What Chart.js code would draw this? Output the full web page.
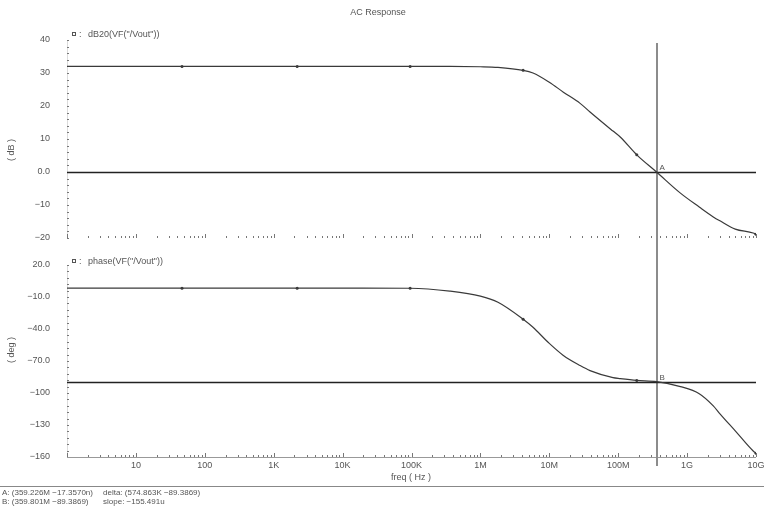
<!DOCTYPE html>
<html>
<head>
<meta charset="utf-8">
<title>AC Response</title>
<script src="https://cdn.jsdelivr.net/npm/chart.js@4.4.1/dist/chart.umd.min.js"></script>
<style>
  html, body { margin: 0; padding: 0; background: #fff; }
  #wrap { position: relative; width: 764px; height: 506px; overflow: hidden; }
  canvas { position: absolute; left: 0; }
  #gain { top: 0; }
  #phase { top: 250px; }
</style>
</head>
<body>
<div id="wrap">
  <canvas id="gain" width="764" height="250"></canvas>
  <canvas id="phase" width="764" height="256"></canvas>
</div>
<script>
// sweep points (Hz)
const freq = [1, 10, 46.7, 100, 1e3, 2.19e3, 1e4, 9.55e4, 3.6e5, 1e6, 1.8e6, 4.17e6, 5.8e6, 1e7,
  1.6e7, 2.8e7, 3.9e7, 8.4e7, 1.07e8, 1.86e8, 3.6e8, 8e8, 1.5e9, 2.4e9, 3e9, 5e9, 9.1e9, 1e10];
// dB20(VF("/Vout"))
const gainDb = [32, 32, 32, 32, 32, 32, 32, 32, 32, 31.9, 31.7, 30.8, 30.0, 27.2,
  24.2, 20.8, 18.2, 12.4, 10.6, 5.2, 0, -6.4, -10.6, -13.6, -14.8, -17.3, -18.5, -18.9];
// phase(VF("/Vout"))
const phaseDeg = [-1.7, -1.7, -1.7, -1.7, -1.7, -1.7, -1.7, -1.8, -4.5, -9.2, -15, -30.9, -38.4, -53.5,
  -64.8, -74.3, -79, -85.6, -86.5, -88.2, -89.4, -94, -100.6, -112, -119.5, -135.5, -154.4, -156.5];
// trace symbols
const markerFreqs = [46.7, 2.19e3, 9.55e4, 4.17e6, 1.86e8, 1e10];

const freqTicks = [10, 100, 1e3, 1e4, 1e5, 1e6, 1e7, 1e8, 1e9, 1e10];
const freqTickLabels = ['10', '100', '1K', '10K', '100K', '1M', '10M', '100M', '1G', '10G'];

// cursors A / B  [freq, value]
const cursorA = [359.226e6, -17.3570e-9];
const cursorB = [359.801e6, -89.3869];
const cursorText = [
  ['A: (359.226M \u221217.3570n)', 'delta: (574.863K \u221289.3869)'],
  ['B: (359.801M \u221289.3869)', 'slope: \u2212155.491u']
];

const FONT = '"Liberation Sans", "DejaVu Sans", sans-serif';
const TEXT = '#555';
const TRACE = '#3a3a3a';
const CURSOR = '#8c8c8c';

function minus(s) { return String(s).replace('-', '\u2212'); }

function pointSize(ctx) {
  return markerFreqs.includes(freq[ctx.dataIndex]) ? 1.5 : 0;
}

function makeData(values) {
  return {
    labels: freq,
    datasets: [{
      data: freq.map((f, i) => ({ x: f, y: values[i] })),
      borderColor: TRACE,
      borderWidth: 1.2,
      backgroundColor: TRACE,
      pointRadius: pointSize,
      pointBorderWidth: 0,
      cubicInterpolationMode: 'monotone',
      fill: false
    }]
  };
}

function noPad(s) {
  s.paddingLeft = 0; s.paddingRight = 0; s.paddingTop = 0; s.paddingBottom = 0;
}

function xScale(showLabels) {
  return {
    type: 'logarithmic',
    min: 1,
    max: 1e10,
    display: showLabels,
    afterBuildTicks: (s) => { s.ticks = freqTicks.map(v => ({ value: v })); },
    afterFit: (s) => { noPad(s); s.height = showLabels ? 49 : 0; },
    grid: { display: false, drawTicks: false },
    border: { display: false },
    ticks: {
      autoSkip: false,
      maxRotation: 0,
      padding: 3,
      color: TEXT,
      font: { family: FONT, size: 9 },
      callback: (v, i) => freqTickLabels[i]
    }
  };
}

function yScale(min, max, step, fmt) {
  return {
    type: 'linear',
    min: min,
    max: max,
    afterFit: (s) => { noPad(s); s.width = 67; },
    grid: { display: false, drawTicks: false },
    border: { display: false },
    ticks: {
      stepSize: step,
      padding: 17,
      color: TEXT,
      font: { family: FONT, size: 9 },
      callback: fmt
    }
  };
}

// axis ticks, cursor lines and the waveform-window texts
function framePlugin(cfg) {
  return {
    id: 'frame',
    beforeDatasetsDraw(chart) {
      const c = chart.ctx, a = chart.chartArea;
      const xs = chart.scales.x, ys = chart.scales.y;
      c.save();
      c.lineWidth = 1;
      c.strokeStyle = '#dcdcdc';
      c.beginPath();
      c.moveTo(a.left + 0.5, a.top);
      c.lineTo(a.left + 0.5, a.bottom);
      c.stroke();
      c.strokeStyle = '#777';
      c.beginPath();
      for (let v = ys.min; v <= ys.max + 1e-9; v += cfg.minorStep) {
        const y = Math.round(ys.getPixelForValue(v)) + 0.5;
        c.moveTo(a.left, y);
        c.lineTo(a.left + 2, y);
      }
      for (let e = 0; e <= 10; e++) {
        for (let k = 1; k <= 9; k++) {
          const f = k * Math.pow(10, e);
          if (f > 1e10) break;
          const x = Math.round(xs.getPixelForValue(f)) + 0.5;
          c.moveTo(x, a.bottom);
          c.lineTo(x, a.bottom - (k === 1 ? 4 : 2));
        }
      }
      c.stroke();
      if (cfg.baseLine) {
        c.strokeStyle = '#999';
        c.beginPath();
        c.moveTo(a.left, a.bottom + 0.5);
        c.lineTo(a.right, a.bottom + 0.5);
        c.stroke();
      }
      // vertical cursor
      const cx = Math.round(xs.getPixelForValue(cursorB[0]));
      c.strokeStyle = CURSOR;
      c.lineWidth = 2;
      c.beginPath();
      c.moveTo(cx, cfg.vTop);
      c.lineTo(cx, cfg.vBottom);
      c.stroke();
      // horizontal cursor
      const hy = Math.round(ys.getPixelForValue(cfg.hValue)) + 0.5;
      c.strokeStyle = '#222';
      c.lineWidth = 1.3;
      c.beginPath();
      c.moveTo(a.left, hy);
      c.lineTo(a.right, hy);
      c.stroke();
      c.restore();
    },
    afterDraw(chart) {
      const c = chart.ctx, xs = chart.scales.x, ys = chart.scales.y;
      c.save();
      c.fillStyle = TEXT;
      c.strokeStyle = TEXT;
      c.textBaseline = 'middle';
      c.font = '9px ' + FONT;
      if (cfg.title) {
        c.textAlign = 'center';
        c.fillText(cfg.title, 378, 13);
      }
      // trace legend
      c.textAlign = 'left';
      c.lineWidth = 1;
      c.strokeRect(72.5, cfg.legendY - 2.5, 3, 3);
      c.fillText(':', 79, cfg.legendY);
      c.fillText(cfg.legend, 88, cfg.legendY);
      // marker letter
      const cx = xs.getPixelForValue(cursorB[0]);
      c.font = '8px ' + FONT;
      c.fillText(cfg.marker, cx + 3, ys.getPixelForValue(cfg.hValue) - 4);
      // y title
      c.font = '9px ' + FONT;
      c.save();
      c.translate(12, cfg.yTitleY);
      c.rotate(-Math.PI / 2);
      c.textAlign = 'center';
      c.fillText(cfg.yTitle, 0, 0);
      c.restore();
      if (cfg.footer) {
        c.textAlign = 'center';
        c.fillText('freq ( Hz )', 411, 228);
        c.strokeStyle = '#888';
        c.beginPath();
        c.moveTo(0, 236.5);
        c.lineTo(764, 236.5);
        c.stroke();
        c.textAlign = 'left';
        c.font = '8px ' + FONT;
        cursorText.forEach((row, i) => {
          c.fillText(row[0], 2, 243 + i * 9);
          c.fillText(row[1], 103, 243 + i * 9);
        });
      }
      c.restore();
    }
  };
}

const common = {
  responsive: false,
  animation: false,
  events: [],
  plugins: { legend: { display: false }, tooltip: { enabled: false } }
};

new Chart(document.getElementById('gain'), {
  type: 'line',
  data: makeData(gainDb),
  options: {
    ...common,
    layout: { padding: { top: 40, right: 8, bottom: 12, left: 0 } },
    scales: {
      x: xScale(false),
      y: yScale(-20, 40, 10, (v) => v === 0 ? '0.0' : minus(v))
    }
  },
  plugins: [framePlugin({
    title: 'AC Response',
    legend: 'dB20(VF("/Vout"))',
    legendY: 35,
    yTitle: '( dB )',
    yTitleY: 150,
    marker: 'A',
    hValue: cursorA[1],
    minorStep: 2,
    vTop: 43,
    vBottom: 250,
    baseLine: false
  })]
});

new Chart(document.getElementById('phase'), {
  type: 'line',
  data: makeData(phaseDeg),
  options: {
    ...common,
    layout: { padding: { top: 15, right: 8, bottom: 0, left: 0 } },
    scales: {
      x: xScale(true),
      y: yScale(-160, 20, 30, (v) => Math.abs(v) < 100 ? minus(v.toFixed(1)) : minus(v))
    }
  },
  plugins: [framePlugin({
    legend: 'phase(VF("/Vout"))',
    legendY: 12,
    yTitle: '( deg )',
    yTitleY: 100,
    marker: 'B',
    hValue: cursorB[1],
    minorStep: 6,
    vTop: 0,
    vBottom: 216,
    baseLine: true,
    footer: true
  })]
});
</script>
</body>
</html>
